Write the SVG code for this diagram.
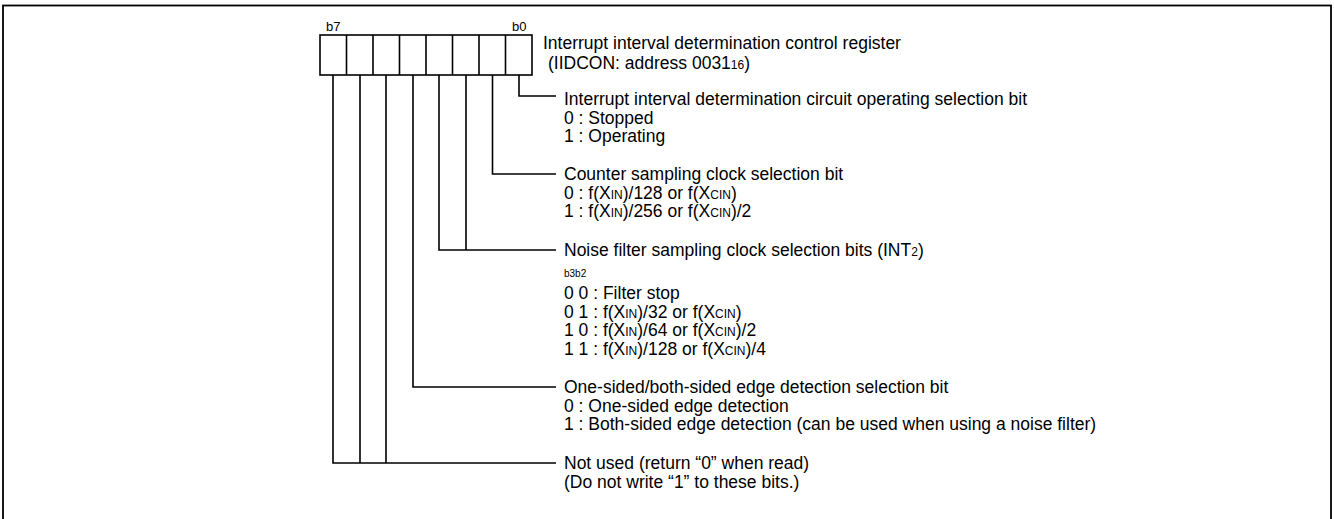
<svg xmlns="http://www.w3.org/2000/svg" width="1334" height="519" viewBox="0 0 1334 519">
<style>
text{font-family:"Liberation Sans",Arial,sans-serif;font-size:17.5px;fill:#000}
.s{font-size:12px}
.t{font-size:10px}
.h{font-size:13px}
.ln{fill:none;stroke:#000;stroke-width:1.6}
</style>
<rect x="3" y="5.5" width="1328" height="530" fill="none" stroke="#000" stroke-width="1.8"/>
<g id="register">
<rect x="320" y="35" width="212" height="40" class="ln"/>
<path class="ln" d="M346.5 35V75M373 35V75M399.5 35V75M426 35V75M452.5 35V75M479 35V75M505.5 35V75"/>
<text x="326" y="31" class="h">b7</text>
<text x="512" y="31" class="h">b0</text>
<text x="543" y="49">Interrupt interval determination control register</text>
<text x="548" y="69">(IIDCON: address 0031<tspan class="s">16</tspan>)</text>
</g>
<g id="connectors">
<path class="ln" d="M519 75V96H556"/>
<path class="ln" d="M492.5 75V174H556"/>
<path class="ln" d="M466 75V250M439 75V250H556"/>
<path class="ln" d="M413 75V387H556"/>
<path class="ln" d="M386 75V463M360 75V463M333 75V463H556"/>
</g>
<g id="bit0">
<text x="564" y="105">Interrupt interval determination circuit operating selection bit</text>
<text x="564" y="124">0 : Stopped</text>
<text x="564" y="142">1 : Operating</text>
</g>
<g id="bit1">
<text x="564" y="180">Counter sampling clock selection bit</text>
<text x="564" y="199">0 : f(X<tspan class="s">IN</tspan>)/128 or f(X<tspan class="s">CIN</tspan>)</text>
<text x="564" y="217">1 : f(X<tspan class="s">IN</tspan>)/256 or f(X<tspan class="s">CIN</tspan>)/2</text>
</g>
<g id="bit23">
<text x="564" y="256">Noise filter sampling clock selection bits (INT<tspan class="s">2</tspan>)</text>
<text x="564" y="277" class="t">b3b2</text>
<text x="564" y="299">0 0 : Filter stop</text>
<text x="564" y="318">0 1 : f(X<tspan class="s">IN</tspan>)/32 or f(X<tspan class="s">CIN</tspan>)</text>
<text x="564" y="336">1 0 : f(X<tspan class="s">IN</tspan>)/64 or f(X<tspan class="s">CIN</tspan>)/2</text>
<text x="564" y="355">1 1 : f(X<tspan class="s">IN</tspan>)/128 or f(X<tspan class="s">CIN</tspan>)/4</text>
</g>
<g id="bit4">
<text x="564" y="393">One-sided/both-sided edge detection selection bit</text>
<text x="564" y="412">0 : One-sided edge detection</text>
<text x="564" y="430">1 : Both-sided edge detection (can be used when using a noise filter)</text>
</g>
<g id="bit567">
<text x="564" y="469">Not used (return “0” when read)</text>
<text x="564" y="488">(Do not write “1” to these bits.)</text>
</g>
</svg>
